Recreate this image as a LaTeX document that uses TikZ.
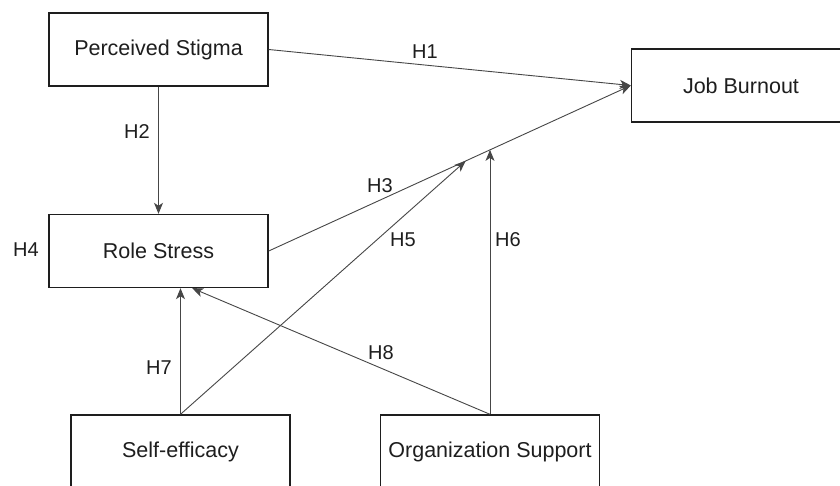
\documentclass[tikz,border=0pt]{standalone}
\usepackage{fontspec}
\setmainfont{Liberation Sans}
\usetikzlibrary{arrows.meta,calc}
\definecolor{txt}{RGB}{30,30,30}
\definecolor{edge}{RGB}{70,70,70}
\tikzset{
  box/.style={draw=txt, line width=1.4pt, rectangle, minimum width=219pt, minimum height=73pt,
    inner sep=0pt, text=txt, font=\fontsize{21.5}{24}\selectfont},
  hlabel/.style={text=txt, inner sep=0pt, font=\fontsize{20}{22}\selectfont},
  conn/.style={draw=edge, line width=0.9pt,
    -{Stealth[length=11pt,width=9pt,inset=3pt]}}
}
\begin{document}
\begin{tikzpicture}[x=1pt,y=-1pt]
\clip (0,0) rectangle (840,486);
\fill[white] (0,0) rectangle (840,486);
\node[box] (PS) at (158.5,49.5) {Perceived Stigma};
\node[box] (RS) at (158.5,251) {Role Stress};
\node[box] (JB) at (741,85.5) {Job Burnout};
\node[box] (SE) at (180.5,451.5) {Self-efficacy};
\node[box] (OS) at (490,451.5) {Organization Support};
\coordinate (m5) at ($(RS.east)!0.544!(JB.west)$);
\coordinate (m6) at ($(RS.east)!0.611!(JB.west)$);
\coordinate (r8) at ($(RS.south west)!0.653!(RS.south east)$);
\draw[conn] (PS.east) -- (JB.west);
\draw[conn] (PS.south) -- (RS.north);
\draw[conn] (RS.east) -- (JB.west);
\draw[conn] (SE.north) -- (m5);
\draw[conn] (OS.north) -- (OS.north |- m6);
\draw[conn] (SE.north) -- (SE.north |- RS.south);
\draw[conn] (OS.north) -- (r8);
\node[hlabel] (h1) at (425,52) {H1};
\node[hlabel] (h2) at (137,132) {H2};
\node[hlabel] (h3) at (380,186) {H3};
\node[hlabel] (h4) at (26,250) {H4};
\node[hlabel] (h5) at (403,240) {H5};
\node[hlabel] (h6) at (508,240) {H6};
\node[hlabel] (h7) at (159,368) {H7};
\node[hlabel] (h8) at (381,353) {H8};
\end{tikzpicture}
\end{document}
